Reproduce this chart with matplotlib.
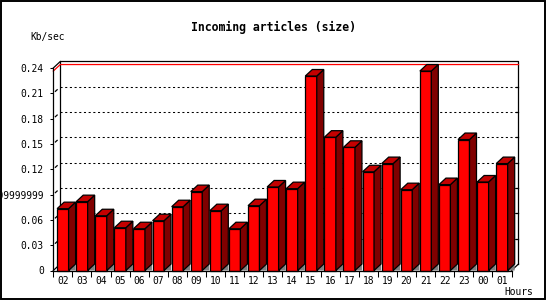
import matplotlib
matplotlib.use("Agg")
import matplotlib.pyplot as plt
from matplotlib.patches import Polygon, Rectangle
import numpy as np

# hourly incoming article volume (Kb/sec)
hours = ["02", "03", "04", "05", "06", "07", "08", "09", "10", "11", "12", "13",
         "14", "15", "16", "17", "18", "19", "20", "21", "22", "23", "00", "01"]
kb_sec = [0.0733, 0.0816, 0.0649, 0.0507, 0.0495, 0.0590, 0.0756, 0.0935,
          0.0709, 0.0495, 0.0768, 0.0990, 0.0970, 0.2305, 0.1580, 0.1460,
          0.1170, 0.1267, 0.0958, 0.2364, 0.1018, 0.1552, 0.1049, 0.1267]
y_ticks = [0, 0.03, 0.06, 0.09, 0.12, 0.15, 0.18, 0.21, 0.24]
y_tick_labels = ["0", "0.03", "0.06", "0.09999999", "0.12", "0.15", "0.18",
                 "0.21", "0.24"]

FRONT, SIDE, TOP, FLOOR = "#ff0000", "#800000", "#c40000", "#808080"
MONO = "DejaVu Sans Mono"
W, H = 550, 300

fig = plt.figure(figsize=(5.5, 3), dpi=100)
left, right, base, top = 53.3, 511.5, 270.5, 68.0
ax = fig.add_axes([left / W, (H - base) / H, (right - left) / W, (base - top) / H])
n = len(hours)
ax.set_xlim(-0.5, n - 0.5)
ax.set_ylim(0, 0.24)
x0, x1 = -0.5, n - 0.5
ymax = 0.24

# 3D depth: 7 px right, 6.5 px up, in data units
px_x = (right - left) / n
px_y = (base - top) / ymax
dx, dy = 7 / px_x, 6.5 / px_y

for s in ["top", "right"]:
    ax.spines[s].set_visible(False)
for s in ["left", "bottom"]:
    ax.spines[s].set_linewidth(0.9)
    ax.spines[s].set_zorder(5)

kw = dict(color="black", lw=0.9, clip_on=False, zorder=1)
# back wall frame
ax.plot([x0 + dx, x0 + dx, x1 + dx, x1 + dx], [dy, ymax + dy, ymax + dy, dy], **kw)
ax.plot([x0, x0 + dx], [ymax, ymax + dy], **kw)
ax.plot([x0, x0 + dx], [0, dy], **kw)
ax.plot([x1, x1 + dx], [0, dy], **kw)

# dotted grid on the back wall, side-wall ticks and right-hand ticks
for v in y_ticks[1:-1]:
    ax.plot([x0 + dx, x1 + dx], [v + dy, v + dy], color="black", lw=0.75,
            dashes=(2, 2.5), clip_on=False, zorder=1)
    ax.plot([x0 + 0.3 * dx, x0 + 0.55 * dx], [v + 0.3 * dy, v + 0.55 * dy], **kw)
    ax.plot([x1 + dx - 3 / px_x, x1 + dx], [v + dy, v + dy], **kw)

# red line at the maximum value
peak = max(kb_sec)
ax.plot([x0, x0 + dx, x1 + dx], [peak, peak + dy, peak + dy], color="red",
        lw=0.9, clip_on=False, zorder=1.5)

idx = np.arange(n)
half = 0.3
ax.bar(idx, kb_sec, width=2 * half, color=FRONT, edgecolor="black", lw=0.9,
       zorder=3, clip_on=False)
for i, v in zip(idx, kb_sec):
    xr, xl = i + half, i - half
    ax.add_patch(Polygon([(xr, 0), (xr + dx, dy), (xr + dx, 0)], closed=True,
                         facecolor=FLOOR, edgecolor="none", zorder=2, clip_on=False))
    ax.add_patch(Polygon([(xr, 0), (xr + dx, dy), (xr + dx, v + dy), (xr, v)],
                         closed=True, facecolor=SIDE, edgecolor="black", lw=0.9,
                         zorder=3, clip_on=False))
    ax.add_patch(Polygon([(xl, v), (xl + dx, v + dy), (xr + dx, v + dy), (xr, v)],
                         closed=True, facecolor=TOP, edgecolor="black", lw=0.9,
                         zorder=3, clip_on=False))

ax.set_yticks(y_ticks, y_tick_labels)
ax.tick_params(axis="y", length=2.3, width=0.75, pad=4.5, labelsize=6.9)
ax.set_xticks(idx, hours)
ax.set_xticks(np.arange(n + 1) - 0.5, minor=True)
ax.tick_params(axis="x", which="major", length=0, pad=3.8, labelsize=6.9)
ax.tick_params(axis="x", which="minor", length=4.3, width=0.75)
for lab in ax.get_xticklabels() + ax.get_yticklabels():
    lab.set_family(MONO)

fig.text(273.5 / W, 1 - 27 / H, "Incoming articles (size)", ha="center",
         va="center", family=MONO, weight="bold", size=8.3)
fig.text(30 / W, 1 - 37 / H, "Kb/sec", ha="left", va="center", family=MONO, size=6.9)
fig.text(533 / W, 1 - 292 / H, "Hours", ha="right", va="center", family=MONO, size=6.9)

fig.add_artist(Rectangle((1 / W, 1.5 / H), 544 / W, 297.5 / H, fill=False,
                         lw=1.4, edgecolor="black", transform=fig.transFigure))

fig.savefig("out.png", dpi=100)
